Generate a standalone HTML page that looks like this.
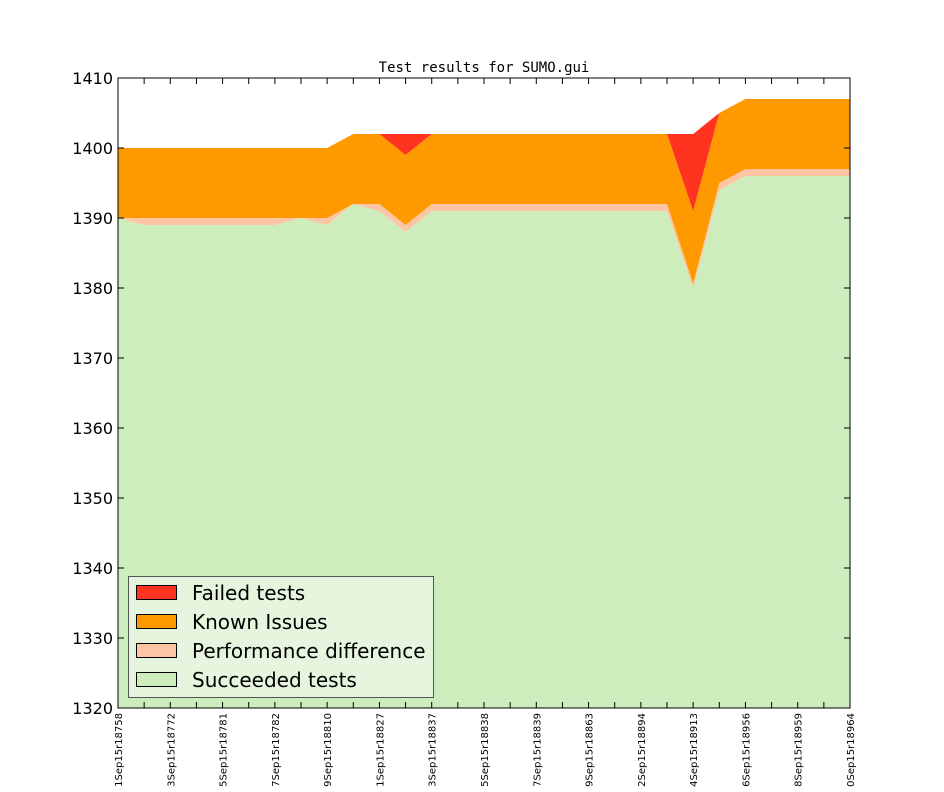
<!DOCTYPE html>
<html><head><style>
body{margin:0;background:#fff;}
svg text{font-family:"DejaVu Sans","Liberation Sans",sans-serif;}
</style></head><body>
<svg id="s" width="944" height="787" xmlns="http://www.w3.org/2000/svg"></svg>
<script>
const s=document.getElementById('s');
const X=i=>118+i*(732/28), Y=v=>708-(v-1320)*7;
function rep(a){let r=[];a.forEach(([v,n])=>{for(let k=0;k<n;k++)r.push(v)});return r;}
const succ=[1390,1389,1389,1389,1389,1389,1389,1390,1389,1392,1391,1388,...rep([[1391,10]]),1380,1394,...rep([[1396,5]])];
const perf=[...rep([[1390,9]]),1392,1392,1389,...rep([[1392,10]]),1380.6,1395,...rep([[1397,5]])];
const known=[...rep([[1400,9]]),1402,1402,1399,...rep([[1402,10]]),1391,1405,...rep([[1407,5]])];
const fail=[...rep([[1400,9]]),1402,1402,1402,...rep([[1402,10]]),1402,1405,...rep([[1407,5]])];
let h='';
function band(top,bot,c){let p=top.map((v,i)=>X(i)+','+Y(v));for(let i=bot.length-1;i>=0;i--)p.push(X(i)+','+Y(bot[i]));return `<polygon points="${p.join(' ')}" fill="${c}"/>`;}
const base=succ.map(()=>1320);
h+=band(succ,base,'#ceedbd');
h+=band(perf,succ,'#fdc5a3');
h+=band(known,perf,'#fe9900');
h+=band(fail,known,'#fe3421');
h+='<rect x="118" y="78" width="732" height="630" fill="none" stroke="#000" stroke-width="1"/>';
for(let v=1320;v<=1410;v+=10){let y=Y(v);h+=`<line x1="118" y1="${y}" x2="124" y2="${y}" stroke="#000"/><line x1="850" y1="${y}" x2="844" y2="${y}" stroke="#000"/><text x="113" y="${y+6}" font-size="16" text-anchor="end">${v}</text>`;}
const labs=['1Sep15r18758','3Sep15r18772','5Sep15r18781','7Sep15r18782','9Sep15r18810','1Sep15r18827','3Sep15r18837','5Sep15r18838','7Sep15r18839','9Sep15r18863','2Sep15r18894','4Sep15r18913','6Sep15r18956','8Sep15r18959','0Sep15r18964'];
for(let i=0;i<=28;i++){let x=X(i);h+=`<line x1="${x}" y1="708" x2="${x}" y2="702" stroke="#000"/><line x1="${x}" y1="78" x2="${x}" y2="84" stroke="#000"/>`;
if(i%2==0){h+=`<text transform="translate(${x+4},${713}) rotate(-90)" font-size="10" text-anchor="end">${labs[i/2]}</text>`;}}
h+='<text x="484" y="72" font-size="14" text-anchor="middle" style="font-family:\'DejaVu Sans Mono\',\'Liberation Mono\',monospace">Test results for SUMO.gui</text>';
h+='<rect x="128.5" y="576.5" width="305" height="121" fill="#e6f5de" stroke="#555"/>';
const L=[['#fe3421','Failed tests'],['#fe9900','Known Issues'],['#fdc5a3','Performance difference'],['#ceedbd','Succeeded tests']];
L.forEach(([c,t],k)=>{let y=585+k*29;h+=`<rect x="136.5" y="${y+.5}" width="40" height="14" fill="${c}" stroke="#000"/><text x="192" y="${y+15}" font-size="20">${t}</text>`;});
s.innerHTML=h;
</script>
</body></html>
